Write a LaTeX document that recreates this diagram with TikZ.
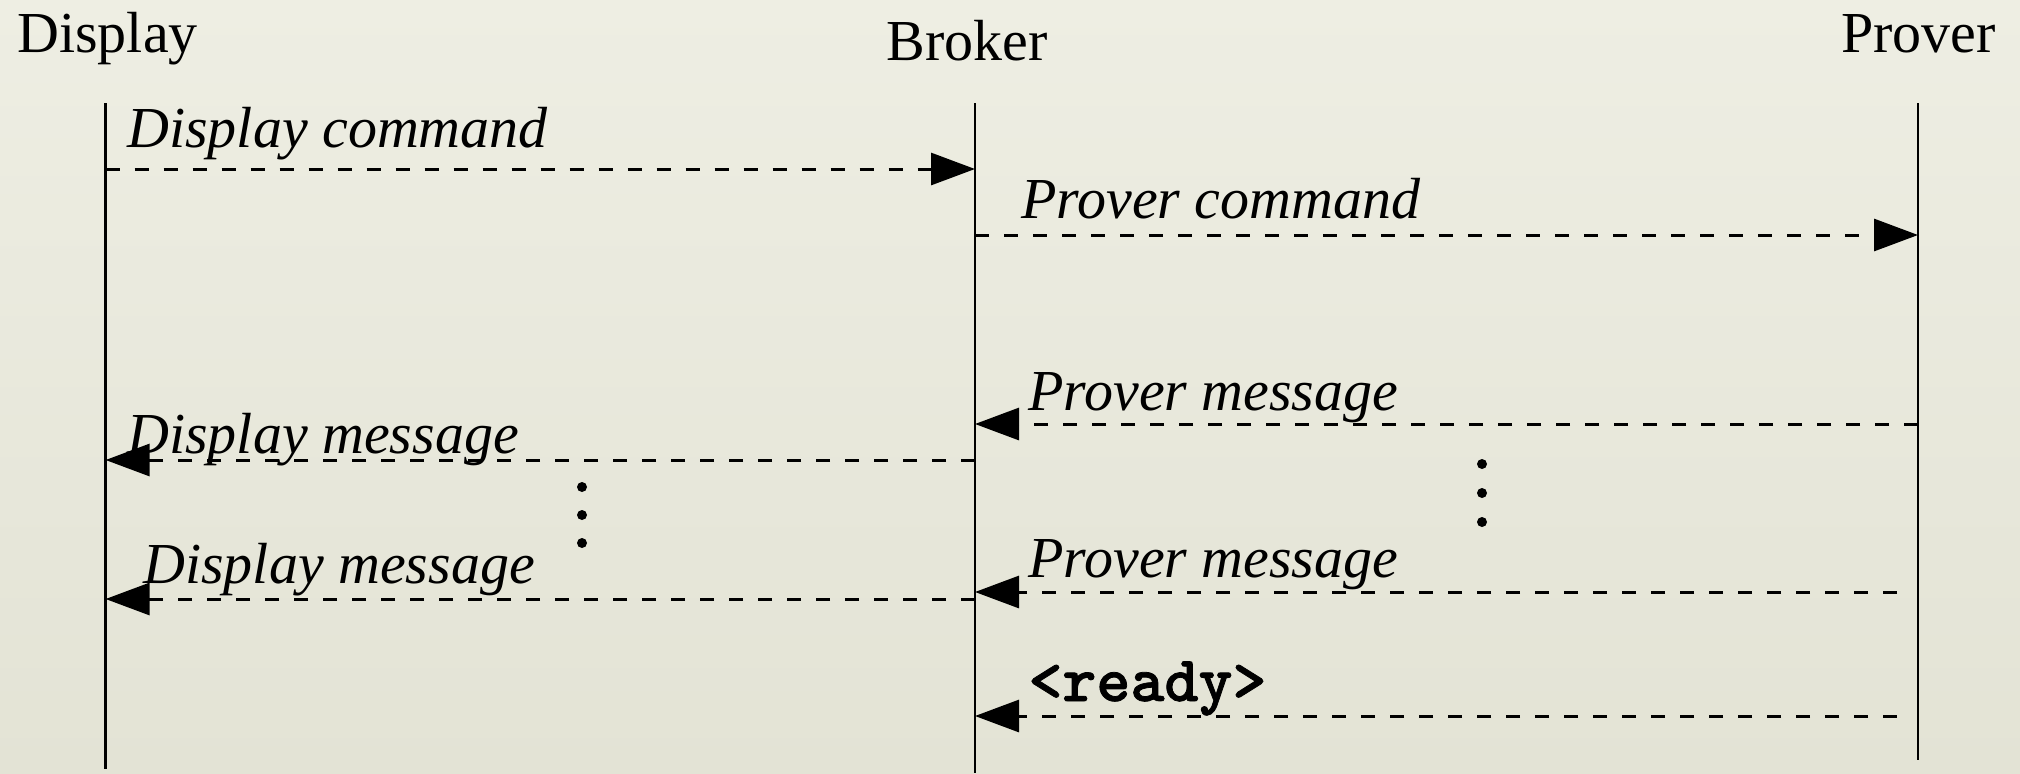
\documentclass[tikz,border=0pt]{standalone}
\usepackage{fontspec}
\setmainfont{Liberation Serif}
\newfontfamily\readyfont{lmmonolt10-bold.otf}[FakeBold=1.2]
\usetikzlibrary{arrows.meta}
\definecolor{bgtop}{RGB}{238,238,227}
\definecolor{bgbot}{RGB}{227,227,213}
\begin{document}
\begin{tikzpicture}[x=0.5pt,y=-0.5pt,
  lifeline/.style={line width=1.2pt},
  msg/.style={line width=1.5pt, dash pattern=on 7pt off 7.5pt, -{Triangle[length=22pt,width=16pt]}},
  title/.style={anchor=base west, inner sep=0pt, font=\fontsize{29}{34}\selectfont},
  lbl/.style={anchor=base west, inner sep=0pt, font=\fontsize{29}{34}\selectfont\itshape},
  ttlbl/.style={anchor=base west, inner sep=0pt, font=\fontsize{32.4}{36}\readyfont},
  vdot/.style={circle, fill, inner sep=0pt, minimum size=5pt}]
\fill[top color=bgtop, bottom color=bgbot] (0,0) rectangle (2020,773);
\useasboundingbox (0,0) rectangle (2020,773);
% titles
\node[title] (tD) at (17,52) {Display};
\node[title] (tB) at (886,60) {Broker};
\node[title] (tP) at (1841,52) {Prover};
% lifelines
\coordinate (Dtop) at (105.6,103); \coordinate (Dbot) at (105.6,769);
\coordinate (Btop) at (975,103);   \coordinate (Bbot) at (975,773);
\coordinate (Ptop) at (1918,103);  \coordinate (Pbot) at (1918,760);
\draw[lifeline] (Dtop) -- (Dbot);
\draw[lifeline] (Btop) -- (Bbot);
\draw[lifeline] (Ptop) -- (Pbot);
% message end points
\coordinate (d1) at (105.6,169); \coordinate (b1) at (975,169);
\coordinate (b2) at (975,235);   \coordinate (p2) at (1918,235);
\coordinate (p3) at (1918,424);  \coordinate (b3) at (975,424);
\coordinate (b4) at (975,460);   \coordinate (d4) at (105.6,460);
\coordinate (b5) at (975,599);   \coordinate (d5) at (105.6,599);
\coordinate (p6) at (1897,592);  \coordinate (b6) at (975,592);
\coordinate (p7) at (1897,716);  \coordinate (b7) at (975,716);
% messages
\draw[msg] (d1) -- (b1);
\draw[msg] (b2) -- (p2);
\draw[msg] (p3) -- (b3);
\draw[msg] (b4) -- (d4);
\draw[msg] (b5) -- (d5);
\draw[msg] (p6) -- (b6);
\draw[msg] (p7) -- (b7);
% labels
\node[lbl] (l1) at (127,147) {Display command};
\node[lbl] (l2) at (1021,218) {Prover command};
\node[lbl] (l3) at (1028,410) {Prover message};
\node[lbl] (l4) at (127,453) {Display message};
\node[lbl] (l5) at (143,583) {Display message};
\node[lbl] (l6) at (1028,577) {Prover message};
\node[ttlbl] (l7) at (1028,701) {<ready>};
% ellipsis dots
\node[vdot] (ld1) at (582,487) {};
\node[vdot] (ld2) at (582,515) {};
\node[vdot] (ld3) at (582,543) {};
\node[vdot] (rd1) at (1482,464) {};
\node[vdot] (rd2) at (1482,493) {};
\node[vdot] (rd3) at (1482,522) {};
\end{tikzpicture}
\end{document}
